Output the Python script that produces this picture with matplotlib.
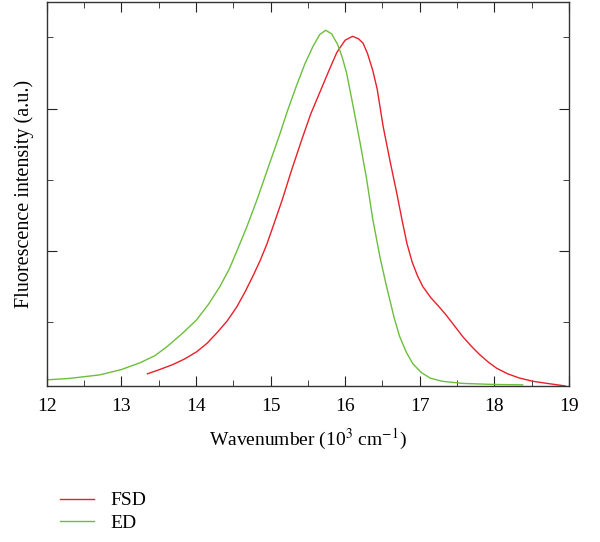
import numpy as np
import matplotlib.pyplot as plt
from matplotlib.ticker import MultipleLocator

plt.rcParams['font.family'] = ['Liberation Serif', 'DejaVu Serif']
plt.rcParams['mathtext.fontset'] = 'stix'

# ED spectrum (wavenumber in 10^3 cm^-1, intensity a.u.)
ed_x = [12.00, 12.30, 12.71, 13.00, 13.25, 13.45, 13.61, 13.82, 14.01, 14.17,
        14.32, 14.45, 14.55, 14.68, 14.82, 14.97, 15.12, 15.23, 15.35, 15.46,
        15.57, 15.66, 15.74, 15.82, 15.90, 15.96, 16.02, 16.10, 16.20, 16.29,
        16.37, 16.47, 16.55, 16.60, 16.66, 16.73, 16.82, 16.91, 17.02, 17.14,
        17.30, 17.58, 18.00, 18.38]
ed_y = [0.037, 0.041, 0.051, 0.066, 0.085, 0.105, 0.130, 0.168, 0.206, 0.250,
        0.299, 0.350, 0.400, 0.466, 0.544, 0.635, 0.725, 0.795, 0.865, 0.925,
        0.975, 1.008, 1.020, 1.010, 0.980, 0.945, 0.900, 0.815, 0.705, 0.600,
        0.490, 0.380, 0.305, 0.262, 0.210, 0.160, 0.115, 0.082, 0.058, 0.042,
        0.033, 0.027, 0.024, 0.023]

# FSD spectrum
fsd_x = [13.35, 13.50, 13.69, 13.85, 14.01, 14.15, 14.28, 14.42, 14.55, 14.66,
         14.76, 14.86, 14.95, 15.05, 15.16, 15.28, 15.42, 15.54, 15.66, 15.78,
         15.89, 16.00, 16.10, 16.18, 16.24, 16.30, 16.37, 16.43, 16.51, 16.60,
         16.69, 16.77, 16.83, 16.90, 16.97, 17.04, 17.15, 17.25, 17.36, 17.47,
         17.58, 17.70, 17.81, 17.92, 18.03, 18.18, 18.34, 18.52, 18.71, 18.95]
fsd_y = [0.054, 0.065, 0.080, 0.096, 0.116, 0.140, 0.169, 0.203, 0.243, 0.285,
         0.327, 0.372, 0.418, 0.478, 0.545, 0.625, 0.713, 0.785, 0.845, 0.905,
         0.958, 0.992, 1.003, 0.996, 0.984, 0.955, 0.908, 0.855, 0.750, 0.655,
         0.565, 0.480, 0.420, 0.368, 0.330, 0.300, 0.268, 0.245, 0.218, 0.188,
         0.158, 0.130, 0.107, 0.087, 0.070, 0.054, 0.042, 0.033, 0.027, 0.020]

fig = plt.figure(figsize=(6, 5.42), dpi=100)
ax = fig.add_axes([0.078, 0.288, 0.87, 0.708])

ax.plot(fsd_x, fsd_y, color='#e8202a', lw=1.0, label='FSD')
ax.plot(ed_x, ed_y, color='#6cbf3c', lw=1.0, label='ED')

ax.set_xlim(12, 19)
ax.set_ylim(0.02, 1.099)
ax.xaxis.set_major_locator(MultipleLocator(1))
ax.xaxis.set_minor_locator(MultipleLocator(0.5))
ax.yaxis.set_major_locator(MultipleLocator(0.4))
ax.yaxis.set_minor_locator(MultipleLocator(0.2))
ax.tick_params(which='both', direction='in', top=True, right=True, color='#222222')
ax.tick_params(which='major', length=7, labelsize=14)
ax.tick_params(which='minor', length=4)
ax.tick_params(axis='y', which='both', labelleft=False)
ax.tick_params(axis='x', pad=9)
for s in ax.spines.values():
    s.set_color('#333333')
    s.set_linewidth(1.0)

ax.set_xlabel(r'Wavenumber (10$^3$ cm$^{-1}$)', fontsize=14, labelpad=8)
ax.set_ylabel('Fluorescence intensity (a.u.)', fontsize=14.5, labelpad=9.5)

fig.legend(loc='upper left', bbox_to_anchor=(0.07, 0.125), frameon=False,
           fontsize=14, handlelength=1.75, handletextpad=0.85, labelspacing=0.25)

plt.savefig('out.png', dpi=100)
